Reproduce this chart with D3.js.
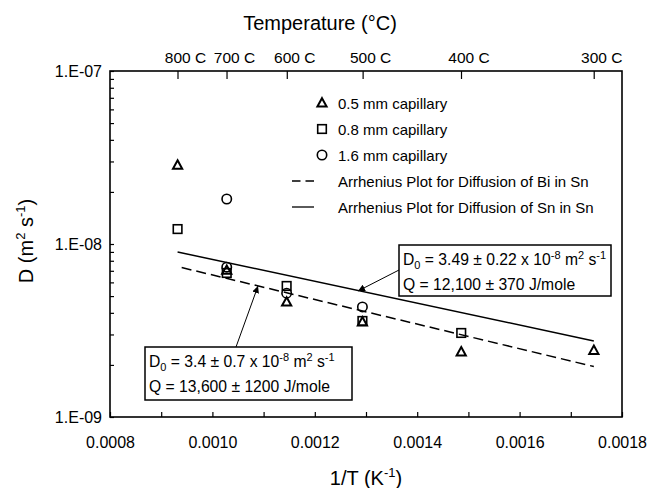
<!DOCTYPE html>
<html>
<head>
<meta charset="utf-8">
<script src="https://cdn.jsdelivr.net/npm/d3@7/dist/d3.min.js"></script>
<style>
  html, body { margin: 0; padding: 0; background: #fff; }
  svg { display: block; font-family: "Liberation Sans", Arial, Helvetica, sans-serif; }
</style>
</head>
<body>
<svg id="chart" width="649" height="488"></svg>
<script>
// Measured diffusivities D (m^2/s) against inverse temperature 1/T (1/K)
const invT05 = [0.000932, 0.001028, 0.001145, 0.001293, 0.001486, 0.001745];
const D05    = [2.86e-8, 7.05e-9, 4.62e-9, 3.55e-9, 2.38e-9, 2.43e-9];

const invT08 = [0.000932, 0.001028, 0.001145, 0.001293, 0.001486];
const D08    = [1.22e-8, 6.8e-9, 5.72e-9, 3.59e-9, 3.06e-9];

const invT16 = [0.001028, 0.001028, 0.001145, 0.001293];
const D16    = [1.82e-8, 7.35e-9, 5.2e-9, 4.33e-9];

// Arrhenius fits D = D0 exp(-Q / RT): [Bi in Sn, Sn in Sn]
const fitNames = ["Bi", "Sn"];
const fitD0 = [3.4e-8, 3.49e-8];
const fitQ = [13600, 12100];
const fitInvTStart = [0.00094, 0.000932];
const fitInvTEnd = [0.001745, 0.001745];
const gasR = 8.314;

// Axis ticks
const xTicks = [0.0008, 0.0009, 0.0010, 0.0011, 0.0012, 0.0013, 0.0014, 0.0015, 0.0016, 0.0017, 0.0018];
const xLabels = [0.0008, 0.0010, 0.0012, 0.0014, 0.0016, 0.0018];
const yDecades = [1e-9, 1e-8, 1e-7];
const yDecadeLabels = ["1.E-09", "1.E-08", "1.E-07"];
const topTempsC = [800, 700, 600, 500, 400, 300];

const legendLabels = [
  "0.5 mm capillary",
  "0.8 mm capillary",
  "1.6 mm capillary",
  "Arrhenius Plot for Diffusion of Bi in Sn",
  "Arrhenius Plot for Diffusion of Sn in Sn"
];

const svg = d3.select("#chart");
const L = 110, R = 622, T = 71, B = 417;

const x = d3.scaleLinear().domain([0.0008, 0.0018]).range([L, R]);
const y = d3.scaleLog().domain([1e-9, 1e-7]).range([B, T]);

// bottom axis, ticks pointing inward
const xAxis = d3.axisBottom(x)
  .tickValues(xTicks)
  .tickSizeInner(-5).tickSizeOuter(0)
  .tickPadding(20)
  .tickFormat(d => xLabels.some(v => Math.abs(v - d) < 1e-9) ? d3.format(".4f")(d) : "");
const gx = svg.append("g").attr("transform", `translate(0,${B})`).call(xAxis);

// left axis, log minor ticks inward
const yMinor = [];
[1e-9, 1e-8].forEach(dec => { for (let k = 2; k <= 9; k++) yMinor.push(dec * k); });
const yAxis = d3.axisLeft(y)
  .tickValues(yDecades.concat(yMinor))
  .tickSizeInner(-4).tickSizeOuter(0)
  .tickPadding(8)
  .tickFormat(d => {
    const i = yDecades.findIndex(v => Math.abs(v - d) / v < 1e-6);
    return i >= 0 ? yDecadeLabels[i] : "";
  });
const gy = svg.append("g").attr("transform", `translate(${L},0)`).call(yAxis);

// top temperature axis
const topAxis = d3.axisTop(x)
  .tickValues(topTempsC.map(c => 1 / (c + 273.15)))
  .tickSizeInner(-8).tickSizeOuter(0)
  .tickFormat("");
const gt = svg.append("g").attr("transform", `translate(0,${T})`).call(topAxis);

[gx, gy, gt].forEach(g => {
  g.select(".domain").remove();
  g.selectAll(".tick line").attr("stroke", "#000").attr("stroke-width", 1.2);
  g.selectAll(".tick text").attr("fill", "#000").attr("font-size", 16)
    .attr("font-family", "'Liberation Sans', Arial, sans-serif");
});

svg.append("g").selectAll("text").data(topTempsC).join("text")
  .attr("x", c => x(1 / (c + 273.15)) + 8)
  .attr("y", 63)
  .attr("text-anchor", "middle")
  .attr("font-size", 15.5)
  .text(c => c + " C");

// frame
svg.append("rect").attr("x", L).attr("y", T).attr("width", R - L).attr("height", B - T)
  .attr("fill", "none").attr("stroke", "#000").attr("stroke-width", 1.6);

// titles
svg.append("text").attr("x", 320).attr("y", 30).attr("text-anchor", "middle")
  .attr("font-size", 20).text("Temperature (°C)");

const xt = svg.append("text").attr("x", (L + R) / 2).attr("y", 485).attr("text-anchor", "middle")
  .attr("font-size", 20);
xt.append("tspan").text("1/T (K");
xt.append("tspan").attr("font-size", 13).attr("dy", -8).text("-1");
xt.append("tspan").attr("dy", 8).text(")");

const yt = svg.append("text").attr("transform", "translate(33,241) rotate(-90)")
  .attr("text-anchor", "middle").attr("font-size", 20);
yt.append("tspan").text("D (m");
yt.append("tspan").attr("font-size", 13).attr("dy", -8).text("2");
yt.append("tspan").attr("dy", 8).text(" s");
yt.append("tspan").attr("font-size", 13).attr("dy", -8).text("-1");
yt.append("tspan").attr("dy", 8).text(")");

// fit lines
const fitPts = fitNames.map((n, i) => [fitInvTStart[i], fitInvTEnd[i]]
  .map(v => [v, fitD0[i] * Math.exp(-fitQ[i] / gasR * v)]));
const line = d3.line().x(d => x(d[0])).y(d => y(d[1]));
svg.append("path").attr("d", line(fitPts[0])).attr("fill", "none")
  .attr("stroke", "#000").attr("stroke-width", 1.5).attr("stroke-dasharray", "10,5");
svg.append("path").attr("d", line(fitPts[1])).attr("fill", "none")
  .attr("stroke", "#000").attr("stroke-width", 1.5);

// markers
function drawTri(g, cx, cy) {
  g.append("path").attr("d", "M0,-4.8L4.6,3.6L-4.6,3.6Z")
    .attr("transform", `translate(${cx},${cy})`)
    .attr("fill", "none").attr("stroke", "#000").attr("stroke-width", 2);
}
function drawSq(g, cx, cy) {
  g.append("rect").attr("x", cx - 4.3).attr("y", cy - 4.3).attr("width", 8.6).attr("height", 8.6)
    .attr("fill", "none").attr("stroke", "#000").attr("stroke-width", 1.6);
}
function drawCirc(g, cx, cy) {
  g.append("circle").attr("cx", cx).attr("cy", cy).attr("r", 4.7)
    .attr("fill", "none").attr("stroke", "#000").attr("stroke-width", 1.6);
}
const gm = svg.append("g");
invT08.forEach((v, i) => drawSq(gm, x(v), y(D08[i])));
invT16.forEach((v, i) => drawCirc(gm, x(v), y(D16[i])));
invT05.forEach((v, i) => drawTri(gm, x(v), y(D05[i])));

// legend
const lg = svg.append("g");
const legY = [103, 129, 155, 181, 207];
drawTri(lg, 322, legY[0]);
drawSq(lg, 322, legY[1]);
drawCirc(lg, 322, legY[2]);
lg.append("line").attr("x1", 292).attr("x2", 314).attr("y1", legY[3]).attr("y2", legY[3])
  .attr("stroke", "#000").attr("stroke-width", 1.3).attr("stroke-dasharray", "8.5,5");
lg.append("line").attr("x1", 292).attr("x2", 314).attr("y1", legY[4]).attr("y2", legY[4])
  .attr("stroke", "#000").attr("stroke-width", 1.3);
lg.selectAll("text").data(legendLabels).join("text")
  .attr("x", 338).attr("y", (d, i) => legY[i] + 5.5)
  .attr("font-size", 15).text(d => d);

// annotation boxes with arrows
svg.append("defs").append("marker").attr("id", "ah")
  .attr("viewBox", "0 0 10 10").attr("refX", 10).attr("refY", 5)
  .attr("markerWidth", 7).attr("markerHeight", 7).attr("orient", "auto")
  .attr("markerUnits", "userSpaceOnUse")
  .append("path").attr("d", "M0,0L10,5L0,10Z").attr("fill", "#000");

function annot(bx, by, bw, bh, d0txt, qtxt, ax1, ay1, ax2, ay2) {
  const g = svg.append("g");
  g.append("line").attr("x1", ax1).attr("y1", ay1).attr("x2", ax2).attr("y2", ay2)
    .attr("stroke", "#000").attr("stroke-width", 1).attr("marker-end", "url(#ah)");
  g.append("rect").attr("x", bx).attr("y", by).attr("width", bw).attr("height", bh)
    .attr("fill", "#fff").attr("stroke", "#000").attr("stroke-width", 1.5);
  const t1 = g.append("text").attr("x", bx + 4).attr("y", by + 20).attr("font-size", 15.7);
  t1.append("tspan").text("D");
  t1.append("tspan").attr("font-size", 11).attr("dy", 4).text("0");
  t1.append("tspan").attr("dy", -4).text(" = " + d0txt + " x 10");
  t1.append("tspan").attr("font-size", 11).attr("dy", -6).text("-8");
  t1.append("tspan").attr("dy", 6).text(" m");
  t1.append("tspan").attr("font-size", 11).attr("dy", -6).text("2");
  t1.append("tspan").attr("dy", 6).text(" s");
  t1.append("tspan").attr("font-size", 11).attr("dy", -6).text("-1");
  g.append("text").attr("x", bx + 4).attr("y", by + 45).attr("font-size", 15.7).text(qtxt);
}
annot(399, 245, 212, 51, "3.49 ± 0.22", "Q = 12,100 ± 370 J/mole", 399, 270, 358, 291);
annot(145, 347, 207, 53, "3.4 ± 0.7", "Q = 13,600 ± 1200 J/mole", 236, 347, 258, 286);
</script>
</body>
</html>
